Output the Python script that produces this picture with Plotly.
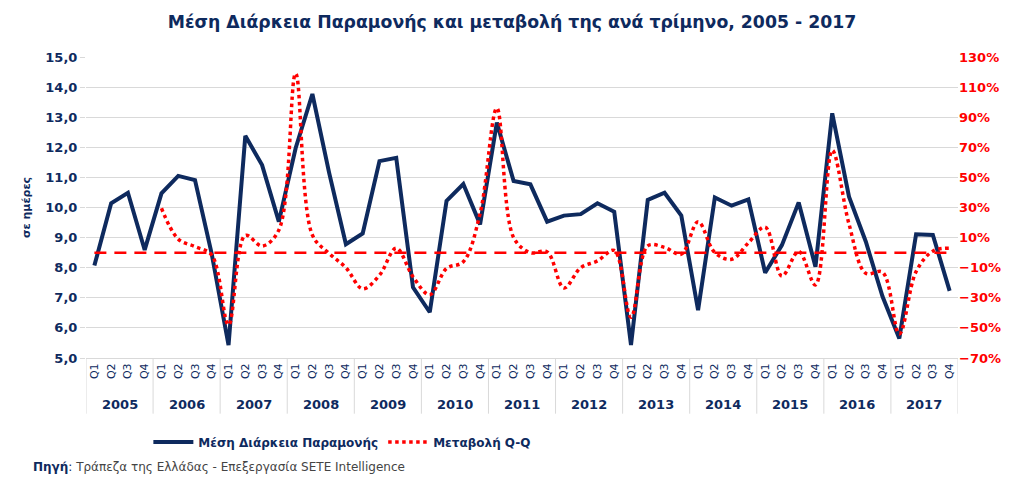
import plotly.graph_objects as go

years = [str(y) for y in range(2005, 2018)]
quarters = ["Q1", "Q2", "Q3", "Q4"]

stay = [8.07, 10.14, 10.49, 8.59,
        10.47, 11.05, 10.91, 8.45,
        5.43, 12.38, 11.41, 9.53,
        11.97, 13.77, 11.15, 8.78,
        9.14, 11.54, 11.65, 7.35,
        6.52, 10.22, 10.78, 9.44,
        12.82, 10.88, 10.77, 9.53,
        9.73, 9.78, 10.14, 9.86,
        5.43, 10.25, 10.49, 9.73,
        6.59, 10.33, 10.06, 10.27,
        7.83, 8.75, 10.17, 8.03,
        13.13, 10.36, 8.87, 7.04,
        5.65, 9.11, 9.09, 7.23]

change = [None, None, None, None,
          29.5, 9, 4, -1.6,
          -48, 11.5, 4.4, 15,
          119, 11.7, -0.5, -10,
          -24, -15, 3, -16,
          -28, -10.5, -6, 26,
          96, 10, 0, 0.5,
          -23.5, -10, -5.5, 1.5,
          -43, 4.5, 3.5, -1,
          20.5, 0, -4.4, 6.5,
          17, -15.5, 0.8, -21.5,
          68, 19, -13.7, -13,
          -54, -12.6, 1, 3]

baseline = [0] * 52

cats = [f"{y} {q}" for y in years for q in quarters]
qlabels = [q for y in years for q in quarters]

NAVY = "#0E2A5E"
RED = "#FF0000"
FONT = "DejaVu Sans"

fig = go.Figure()
fig.add_trace(go.Scatter(x=cats, y=stay, name="Μέση Διάρκεια Παραμονής", mode="lines",
                         line=dict(color=NAVY, width=4)))
fig.add_trace(go.Scatter(x=cats, y=change, name="Μεταβολή Q-Q", mode="lines", yaxis="y2",
                         line=dict(color=RED, width=3.5, dash="dot", shape="spline")))
fig.add_trace(go.Scatter(x=cats, y=baseline, mode="lines", yaxis="y2", showlegend=False,
                         line=dict(color=RED, width=2.5, dash="12px,8px")))

shapes = []
for i in range(len(years) + 1):
    shapes.append(dict(type="line", xref="x", yref="paper", x0=i * 4 - 0.5, x1=i * 4 - 0.5,
                       y0=0, y1=-0.185, line=dict(color="#D9D9D9", width=1)))

annotations = []
for i, y in enumerate(years):
    annotations.append(dict(x=i * 4 + 1.5, xref="x", y=-0.153, yref="paper", text=f"<b>{y}</b>",
                            showarrow=False, font=dict(family=FONT, size=13, color=NAVY),
                            xanchor="center", yanchor="middle"))
annotations.append(dict(x=-0.063, xref="paper", y=-0.362, yref="paper",
                        text="<b>Πηγή</b>: <span style='color:#444444'>Τράπεζα της Ελλάδας - Επεξεργασία SETE Intelligence</span>",
                        showarrow=False, font=dict(family=FONT, size=12, color=NAVY),
                        xanchor="left", yanchor="middle"))

fig.update_layout(
    width=1024, height=489,
    margin=dict(l=86, r=66, t=57, b=131),
    paper_bgcolor="white", plot_bgcolor="white",
    separators=",.",
    font=dict(family=FONT, color=NAVY),
    title=dict(text="<b>Μέση Διάρκεια Παραμονής και μεταβολή της ανά τρίμηνο, 2005 - 2017</b>",
               x=0.5, xanchor="center", y=1 - 22 / 489, yanchor="middle",
               font=dict(family=FONT, size=17.3, color=NAVY)),
    xaxis=dict(type="category", categoryorder="array", categoryarray=cats,
               tickmode="array", tickvals=cats, ticktext=qlabels, tickangle=-90,
               tickfont=dict(family=FONT, size=11, color=NAVY),
               showgrid=False, showline=True, linecolor="#D9D9D9", linewidth=1,
               ticks="", range=[-0.5, 51.5], zeroline=False),
    yaxis=dict(range=[5, 15], dtick=1, tickformat=".1f",
               tickfont=dict(family=FONT, size=13, color=NAVY, weight="bold"),
               gridcolor="#D9D9D9", gridwidth=1.3, zeroline=False,
               ticks="outside", ticklen=5, tickcolor="#D9D9D9",
               title=dict(text="<b>σε ημέρες</b>", font=dict(family=FONT, size=11, color=NAVY),
                          standoff=12)),
    yaxis2=dict(range=[-70, 130], tick0=-70, dtick=20, overlaying="y", side="right",
                ticksuffix="%", tickfont=dict(family=FONT, size=13, color=RED, weight="bold"),
                showgrid=False, zeroline=False, ticks=""),
    legend=dict(orientation="h", x=0.294, xanchor="center", y=-0.279, yanchor="middle",
                font=dict(family=FONT, size=12, color=NAVY, weight="bold"), itemwidth=40,
                bgcolor="rgba(0,0,0,0)"),
    shapes=shapes,
    annotations=annotations,
)

fig.write_html("out.html")
